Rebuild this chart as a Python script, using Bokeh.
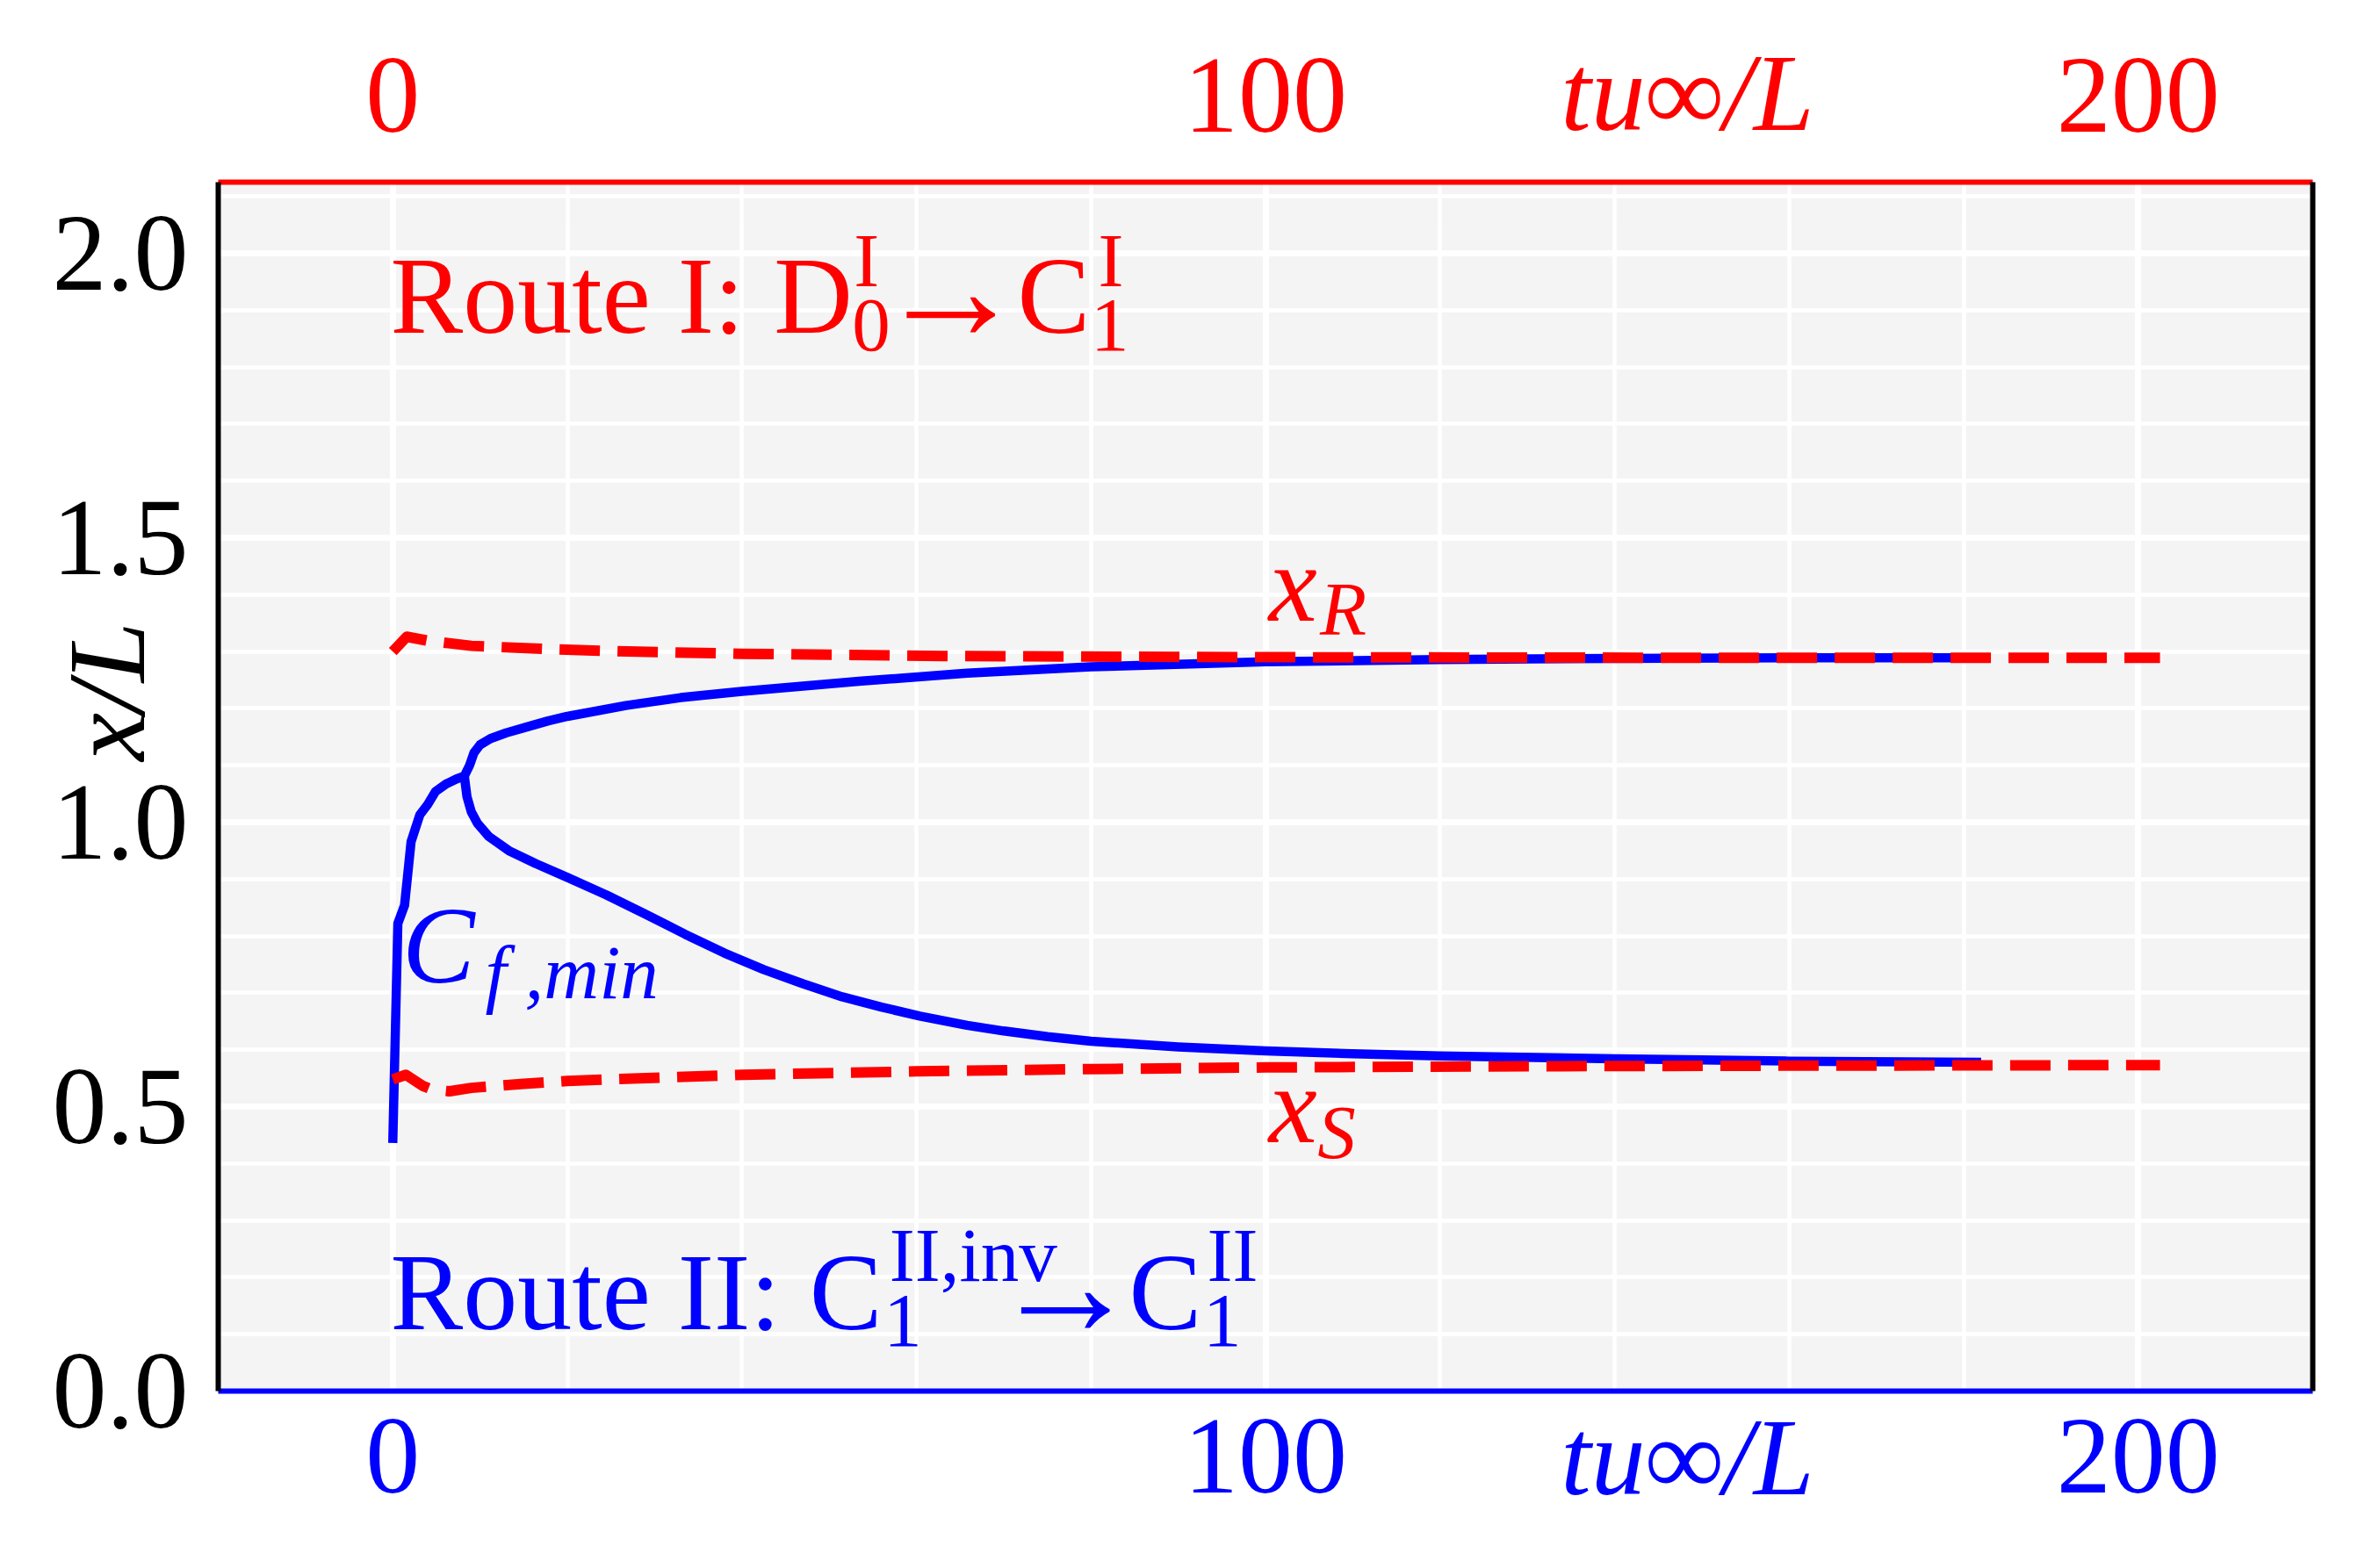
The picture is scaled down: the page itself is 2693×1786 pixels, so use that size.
import math
from bokeh.plotting import figure
from bokeh.models import LinearAxis, FixedTicker, PrintfTickFormatter, Range1d, Label
from bokeh.embed import file_html
from bokeh.resources import INLINE

# ---------------- data ----------------
# x_R : reattachment point (red dashed, upper)
t_xr = [0.0, 1.6, 4.0, 9.0, 18.0, 27.0, 40.0, 63.0, 100.0, 150.0, 202.5]
xr = [1.300, 1.326, 1.319, 1.310, 1.304, 1.300, 1.296, 1.292, 1.290, 1.289, 1.289]

# x_S : separation point (red dashed, lower)
t_xs = [0.0, 1.5, 3.5, 4.5, 6.5, 9.0, 15.0, 20.0, 25.0, 40.0, 60.0, 80.0, 100.0, 130.0, 160.0, 202.5]
xs = [0.548, 0.556, 0.536, 0.530, 0.527, 0.533, 0.540, 0.545, 0.548, 0.556, 0.562, 0.566, 0.569, 0.571, 0.572, 0.573]

# C_f,min location (blue): rising part + upper branch
t_cf_up = [0.0, 0.58, 1.35, 2.1, 3.1, 4.0, 4.9, 6.1, 7.3, 8.2, 8.8, 9.3, 10.0, 11.2, 13.0, 15.5,
           17.8, 20.0, 26.7, 33.0, 40.0, 53.7, 65.8, 80.0, 100.0, 120.0, 140.0, 160.0, 182.0]
cf_up = [0.436, 0.822, 0.854, 0.966, 1.013, 1.031, 1.054, 1.067, 1.076, 1.081, 1.100, 1.122, 1.136,
         1.147, 1.157, 1.168, 1.178, 1.186, 1.205, 1.219, 1.230, 1.248, 1.262, 1.273, 1.282, 1.286,
         1.288, 1.289, 1.289]

# C_f,min location (blue): lower branch after the split
t_cf_low = [8.2, 8.5, 9.0, 9.7, 11.0, 13.3, 16.4, 20.0, 24.5, 29.0, 33.5, 38.0, 42.5, 47.0, 51.5,
            56.0, 60.4, 65.8, 70.0, 75.0, 80.0, 90.0, 100.0, 110.0, 120.0, 140.0, 160.0, 182.0]
cf_low = [1.081, 1.045, 1.018, 0.998, 0.975, 0.950, 0.927, 0.903, 0.872, 0.838, 0.803, 0.770, 0.741,
          0.716, 0.693, 0.675, 0.659, 0.643, 0.633, 0.623, 0.615, 0.605, 0.598, 0.593, 0.589,
          0.584, 0.580, 0.578]

x_ticks = [0, 100, 200]
x_minor = [-20, 20, 40, 60, 80, 120, 140, 160, 180, 220]
y_ticks = [0.0, 0.5, 1.0, 1.5, 2.0]
y_minor = [0.1, 0.2, 0.3, 0.4, 0.6, 0.7, 0.8, 0.9, 1.1, 1.2, 1.3, 1.4, 1.6, 1.7, 1.8, 1.9, 2.1]

x_title = "tu\u221e/L"
y_title = "x/L"

RED = "#ff0000"
BLUE = "#0000ff"
BLACK = "#000000"
FONT = "Liberation Serif"
MAIN = 124
SUB = 87
ARROW = 170
BL = 0.355          # label anchor sits this many em above the baseline
NBSP = "\u00a0"

# frame geometry (pixels of the canvas)
FL, FT, FW, FH = 248, 207, 2385, 1377
PXY = FH / 2.125

p = figure(width=2677, height=1770,
           x_range=Range1d(-20, 220), y_range=Range1d(0, 2.125),
           output_backend="svg", toolbar_location=None,
           min_border_left=FL, min_border_right=2677 - FL - FW,
           min_border_top=FT, min_border_bottom=1770 - FT - FH)
p.background_fill_color = "#f4f4f4"
p.border_fill_color = "white"
p.outline_line_color = None

xt = FixedTicker(ticks=x_ticks, minor_ticks=x_minor)
yt = FixedTicker(ticks=y_ticks, minor_ticks=y_minor)


def style_axis(ax, color, standoff):
    ax.axis_line_color = color
    ax.axis_line_width = 6
    ax.major_tick_line_color = None
    ax.minor_tick_line_color = None
    ax.major_tick_in = 0
    ax.major_tick_out = 0
    ax.minor_tick_in = 0
    ax.minor_tick_out = 0
    ax.major_label_text_font = FONT
    ax.major_label_text_font_size = f"{MAIN}px"
    ax.major_label_text_color = color
    ax.major_label_standoff = standoff


def title_axis(ax, text, color, standoff, pad):
    # axis title drawn in the tick-label row, shifted along the axis by leading no-break spaces
    ax.axis_label = NBSP * pad + text
    ax.axis_label_standoff_mode = "axis"
    ax.axis_label_standoff = standoff
    ax.axis_label_text_font = FONT
    ax.axis_label_text_font_size = f"{MAIN}px"
    ax.axis_label_text_font_style = "italic"
    ax.axis_label_text_color = color


bottom = p.xaxis[0]
bottom.ticker = xt
style_axis(bottom, BLUE, 33)
title_axis(bottom, x_title, BLUE, 7, 31)

left = p.yaxis[0]
left.ticker = yt
left.formatter = PrintfTickFormatter(format="%.1f")
style_axis(left, BLACK, 34)
title_axis(left, y_title, BLACK, 58, 7)

top = LinearAxis(ticker=xt)
style_axis(top, RED, 58)
title_axis(top, x_title, RED, 33, 31)
p.add_layout(top, "above")

right = LinearAxis(ticker=FixedTicker(ticks=[]))
style_axis(right, BLACK, 0)
right.major_label_text_font_size = "0px"
p.add_layout(right, "right")

p.xgrid.ticker = xt
p.ygrid.ticker = yt
for g in (p.xgrid[0], p.ygrid[0]):
    g.grid_line_color = "white"
    g.grid_line_width = 7
    g.minor_grid_line_color = "white"
    g.minor_grid_line_width = 4.5

# ---------------- curves ----------------
p.line(t_cf_up, cf_up, line_color=BLUE, line_width=10.5, line_join="round")
p.line(t_cf_low, cf_low, line_color=BLUE, line_width=10.5, line_join="round")
p.line(t_xr, xr, line_color=RED, line_width=12, line_dash="46 20", line_join="round")
p.line(t_xs, xs, line_color=RED, line_width=12, line_dash="46 20", line_join="round")


# ---------------- texts ----------------
def put(text, x, y, color, size=MAIN, italic=False):
    """x, y: data position of the text origin (left end of the baseline)."""
    p.add_layout(Label(x=x, y=y + BL * size / PXY, x_units="data", y_units="data", text=text,
                       text_font=FONT, text_font_size=f"{size}px", text_color=color,
                       text_font_style="italic" if italic else "normal",
                       text_align="left", text_baseline="alphabetic"))


# Route I
put("Route I:", -0.27, 1.8568, RED)
put("D", 43.67, 1.8568, RED)
put("0", 52.63, 1.8259, RED, SUB)
put("I", 52.84, 1.9398, RED, SUB)
put("\u2192", 55.37, 1.8430, RED, ARROW)
put("C", 71.56, 1.8568, RED)
put("I", 80.82, 1.9398, RED, SUB)
put("1", 79.97, 1.8259, RED, SUB)

# Route II
put("Route II:", -0.27, 0.1050, BLUE)
put("C", 47.75, 0.1050, BLUE)
put("II,inv", 56.91, 0.1915, BLUE, SUB)
put("1", 56.26, 0.0757, BLUE, SUB)
put("\u2192", 68.51, 0.0926, BLUE, ARROW)
put("C", 84.35, 0.1050, BLUE)
put("II", 93.31, 0.1915, BLUE, SUB)
put("1", 92.85, 0.0757, BLUE, SUB)

# C_f,min
put("C", 1.09, 0.7151, BLUE, italic=True)
put("f", 10.60, 0.6888, BLUE, SUB, italic=True)
put(",min", 15.13, 0.6888, BLUE, SUB, italic=True)

# x_R, x_S
put("x", 100.37, 1.3498, RED, italic=True)
put("R", 106.25, 1.3266, RED, SUB, italic=True)
put("x", 100.37, 0.4335, RED, italic=True)
put("S", 105.95, 0.4077, RED, SUB, italic=True)

open("out.html", "w").write(file_html(p, INLINE))
